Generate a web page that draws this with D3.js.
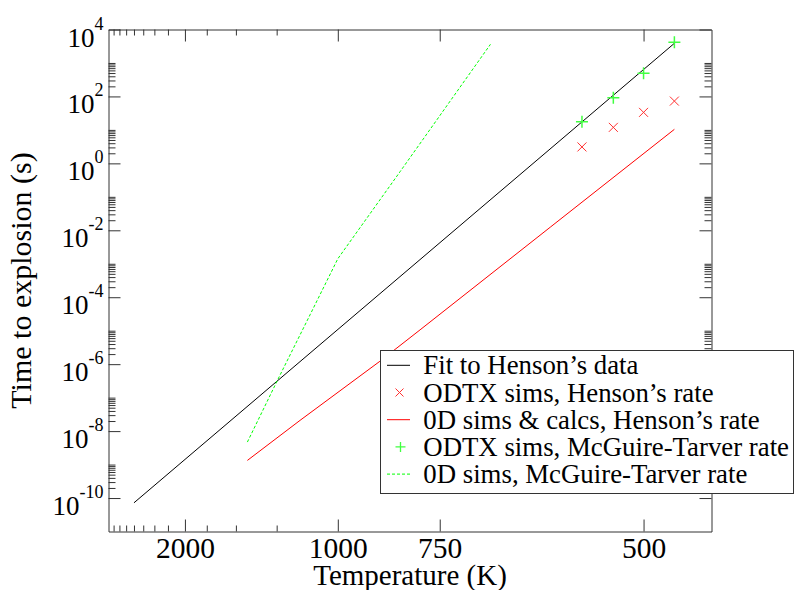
<!DOCTYPE html>
<html><head><meta charset="utf-8">
<script src="https://cdn.jsdelivr.net/npm/d3@7"></script>
<style>
body{margin:0;background:#fff}
svg{display:block}
text{font-family:"Liberation Serif","Times New Roman",Times,serif;fill:#000}
</style>
</head><body><svg id="c" width="795" height="590"></svg>
<script>
// ---- data ----
const majorTemps=[2000,1000,750,500];
const minorTemps=[1250,1500,1750,2250,2500,2750,3000,3250,3500,3750];
const yMajor=[1e4,1e2,1e0,1e-2,1e-4,1e-6,1e-8,1e-10];
const yMajorExp=["4","2","0","-2","-4","-6","-8","-10"];
const fitT=[3000,476];
const fitTime=[7.2e-11,3870];
const odtxT=[556,526,500,476];
const odtxHensonTime=[3.1,11.9,33.4,72.6];
const odtxMTTime=[17.5,91,490,4140];
const zeroDHensonT=[1420,1141,879,788,590,476];
const zeroDHensonTime=[1.33e-9,2.09e-8,1.22e-6,1.06e-5,0.0124,10.4];
const zeroDMTT=[1420,1246,1100,1000,831,667];
const zeroDMTTime=[4.7e-9,3.3e-7,2.97e-5,1.41e-3,0.56,3610];
const legendLabels=["Fit to Henson\u2019s data","ODTX sims, Henson\u2019s rate","0D sims & calcs, Henson\u2019s rate","ODTX sims, McGuire-Tarver rate","0D sims, McGuire-Tarver rate"];

// ---- layout ----
const L=108.5,R=711.5,T=29.5,B=531.5;
const svg=d3.select("#c");
const x=d3.scaleLinear().domain([1/4000,1/450]).range([L,R]);
const y=d3.scaleLog().domain([1e-11,1e4]).range([B,T]);
const axisColor="#333";

// minor y ticks: 2..10 x 10^e for even exponents
const yMinor=[];
for(let e=-10;e<=2;e+=2){for(let k=2;k<=10;k++){yMinor.push(k*Math.pow(10,e));}}

function styleAxis(g){
  g.selectAll("path.domain").attr("stroke",axisColor);
  g.selectAll(".tick line").attr("stroke",axisColor);
  g.attr("font-family",null).attr("font-size",null);
}
function minor(g){g.select("path.domain").remove();g.selectAll(".tick line").attr("stroke",axisColor);g.selectAll("text").remove();}

// minor axes
svg.append("g").attr("transform",`translate(0,${B})`).call(d3.axisBottom(x).tickValues(minorTemps.map(t=>1/t)).tickSizeInner(-6).tickSizeOuter(0).tickFormat("")).call(minor);
svg.append("g").attr("transform",`translate(0,${T})`).call(d3.axisTop(x).tickValues(minorTemps.map(t=>1/t)).tickSizeInner(-6).tickSizeOuter(0).tickFormat("")).call(minor);
svg.append("g").attr("transform",`translate(${L},0)`).call(d3.axisLeft(y).tickValues(yMinor).tickSizeInner(-7).tickSizeOuter(0).tickFormat("")).call(minor);
svg.append("g").attr("transform",`translate(${R},0)`).call(d3.axisRight(y).tickValues(yMinor).tickSizeInner(-7).tickSizeOuter(0).tickFormat("")).call(minor);

// major axes
const gb=svg.append("g").attr("transform",`translate(0,${B})`)
  .call(d3.axisBottom(x).tickValues(majorTemps.map(t=>1/t)).tickSizeInner(-12).tickSizeOuter(0).tickFormat((d,i)=>majorTemps[i]));
styleAxis(gb);
gb.selectAll("text").attr("y",26.5).attr("dy",null).attr("font-size",29.5);

const gt=svg.append("g").attr("transform",`translate(0,${T})`)
  .call(d3.axisTop(x).tickValues(majorTemps.map(t=>1/t)).tickSizeInner(-12).tickSizeOuter(0).tickFormat(""));
styleAxis(gt);

const gl=svg.append("g").attr("transform",`translate(${L},0)`)
  .call(d3.axisLeft(y).tickValues(yMajor).tickSizeInner(-12).tickSizeOuter(0).tickFormat(""));
styleAxis(gl);
gl.selectAll(".tick text").each(function(d,i){
  const t=d3.select(this).attr("x",-5).attr("y",16.5).attr("dy",null).attr("text-anchor","end");
  t.append("tspan").attr("font-size",27).text("10");
  t.append("tspan").attr("font-size",18).attr("dy",-17).text(yMajorExp[i]);
});

const gr=svg.append("g").attr("transform",`translate(${R},0)`)
  .call(d3.axisRight(y).tickValues(yMajor).tickSizeInner(-12).tickSizeOuter(0).tickFormat(""));
styleAxis(gr);

// axis titles
svg.append("text").attr("x",(L+R)/2).attr("y",585).attr("text-anchor","middle").attr("font-size",29).text("Temperature (K)");
svg.append("text").attr("transform",`translate(31,${(T+B)/2}) rotate(-90)`).attr("text-anchor","middle").attr("font-size",30).text("Time to explosion (s)");

// ---- data marks ----
const line=d3.line().x(d=>x(1/d[0])).y(d=>y(d[1]));
const plot=svg.append("g");
function cross(g,cx,cy,s,color,w){g.append("path").attr("d",`M${cx-s},${cy-s}L${cx+s},${cy+s}M${cx-s},${cy+s}L${cx+s},${cy-s}`).style("stroke",color).style("stroke-width",w).style("fill","none");}
function plus(g,cx,cy,s,color,w){g.append("path").attr("d",`M${cx-s},${cy}H${cx+s}M${cx},${cy-s}V${cy+s}`).style("stroke",color).style("stroke-width",w).style("fill","none");}
// set 0: fit
plot.append("path").datum(d3.zip(fitT,fitTime)).attr("d",line).attr("fill","none").attr("stroke","#000").attr("stroke-width",1);
// set 1: red crosses
d3.zip(odtxT,odtxHensonTime).forEach(d=>cross(plot,x(1/d[0]),y(d[1]),4.5,"#ff3030",1));
// set 2: red line
plot.append("path").datum(d3.zip(zeroDHensonT,zeroDHensonTime)).attr("d",line).attr("fill","none").attr("stroke","#ff0000").attr("stroke-width",1);
// set 3: green plus
d3.zip(odtxT,odtxMTTime).forEach(d=>plus(plot,x(1/d[0]),y(d[1]),6,"#40ff40",1.5));
// set 4: green dashed
plot.append("path").datum(d3.zip(zeroDMTT,zeroDMTTime)).attr("d",line).attr("fill","none").attr("stroke","#00ff00").attr("stroke-width",1).attr("stroke-dasharray","3,2");

// ---- legend ----
const lg=svg.append("g");
lg.append("rect").attr("x",380.5).attr("y",350.5).attr("width",413).attr("height",143).attr("fill","#fff").attr("stroke",axisColor);
legendLabels.forEach((lab,i)=>{
  const by=374.3+i*27.2, sy=by-9;
  if(i===0) lg.append("line").attr("x1",387).attr("x2",410).attr("y1",sy).attr("y2",sy).attr("stroke","#000");
  if(i===1) cross(lg,399.5,sy,4,"#ff3030",1);
  if(i===2) lg.append("line").attr("x1",387).attr("x2",410).attr("y1",sy).attr("y2",sy).attr("stroke","#ff0000");
  if(i===3) plus(lg,400.5,sy,5,"#40ff40",1.3);
  if(i===4) lg.append("line").attr("x1",387).attr("x2",410).attr("y1",sy).attr("y2",sy).attr("stroke","#00ff00").attr("stroke-dasharray","3,2");
  lg.append("text").attr("x",423.3).attr("y",by).attr("font-size",26.8).text(lab);
});
</script>
</body></html>
